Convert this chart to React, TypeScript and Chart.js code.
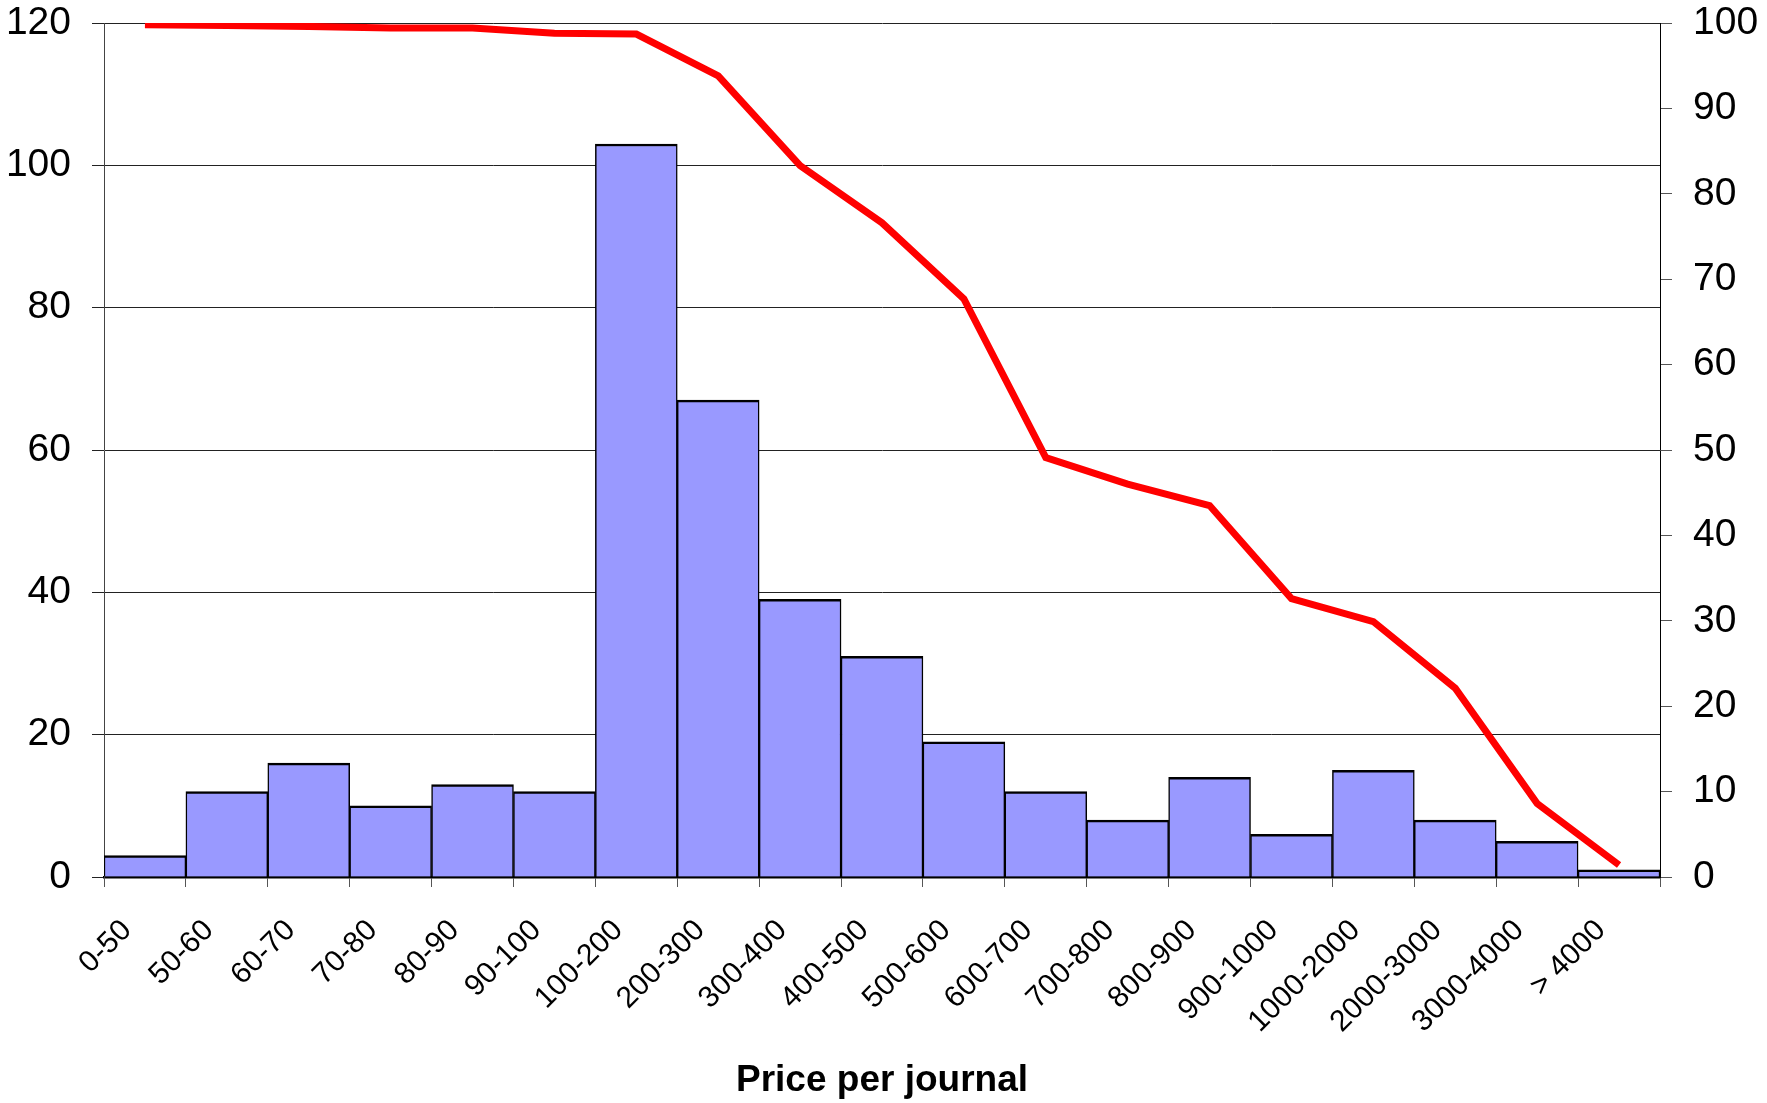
import React, { useEffect, useRef } from "react";
import { Chart, registerables } from "chart.js";

Chart.register(...registerables);

const categories = [
  "0-50", "50-60", "60-70", "70-80", "80-90", "90-100", "100-200", "200-300",
  "300-400", "400-500", "500-600", "600-700", "700-800", "800-900", "900-1000",
  "1000-2000", "2000-3000", "3000-4000", "> 4000",
];
const journalCounts = [3, 12, 16, 10, 13, 12, 103, 67, 39, 31, 19, 12, 8, 14, 6, 15, 8, 5, 1];
const cumulativePercent = [
  99.8, 99.7, 99.6, 99.4, 99.4, 98.8, 98.7, 93.8, 83.3, 76.6, 67.7, 49.1, 46.0, 43.5,
  32.6, 29.9, 22.1, 8.6, 1.4,
];
const leftAxisMax = 120;
const leftAxisStep = 20;
const rightAxisMax = 100;
const rightAxisStep = 10;
const xAxisTitle = "Price per journal";

const W = 1767;
const H = 1103;

export default function App() {
  const canvasRef = useRef<HTMLCanvasElement | null>(null);

  useEffect(() => {
    const canvas = canvasRef.current;
    if (!canvas) return;
    const font = "'Liberation Sans', Arial, sans-serif";
    const chart = new Chart(canvas, {
      type: "bar",
      data: {
        labels: categories,
        datasets: [
          {
            type: "line",
            data: cumulativePercent,
            yAxisID: "y1",
            borderColor: "#FF0000",
            borderWidth: 7,
            pointRadius: 0,
            tension: 0,
            borderJoinStyle: "miter",
            borderCapStyle: "butt",
            order: 0,
          } as any,
          {
            type: "bar",
            data: journalCounts,
            yAxisID: "y",
            backgroundColor: "#9999FF",
            borderColor: "#000000",
            borderWidth: { top: 2.5, left: 1.5, right: 1.5, bottom: 0 },
            borderSkipped: "start",
            barPercentage: 1,
            categoryPercentage: 1,
            order: 1,
          } as any,
        ],
      },
      options: {
        animation: false,
        responsive: false,
        maintainAspectRatio: false,
        layout: { padding: { top: 23, left: 0, right: 0, bottom: 0 } },
        plugins: {
          legend: { display: false },
          tooltip: { enabled: false },
        },
        scales: {
          x: {
            type: "category",
            offset: true,
            grid: {
              offset: true,
              drawOnChartArea: false,
              drawTicks: true,
              tickLength: 10,
              color: "#555555",
              lineWidth: 1,
            },
            border: { display: true, color: "#000000", width: 2.5 },
            ticks: {
              autoSkip: false,
              maxRotation: 45,
              minRotation: 45,
              color: "#000000",
              font: { family: font, size: 30 },
              padding: 26,
              labelOffset: -18,
            },
            title: {
              display: true,
              text: xAxisTitle,
              color: "#000000",
              font: { family: font, size: 37, weight: "bold" },
              padding: { top: 0, bottom: 0 },
            },
            afterFit: (s: any) => {
              s.height = 226;
              s.paddingLeft = 0;
              s.paddingRight = 0;
            },
          },
          y: {
            type: "linear",
            position: "left",
            min: 0,
            max: leftAxisMax,
            ticks: {
              stepSize: leftAxisStep,
              color: "#000000",
              font: { family: font, size: 39 },
              padding: 21,
            },
            grid: {
              color: "#222222",
              lineWidth: 1,
              tickLength: 12,
              drawTicks: true,
            },
            border: { display: true, color: "#444444", width: 1 },
            afterFit: (s: any) => {
              s.width = 104;
              s.paddingTop = 0;
              s.paddingBottom = 0;
            },
          },
          y1: {
            type: "linear",
            position: "right",
            min: 0,
            max: rightAxisMax,
            ticks: {
              stepSize: rightAxisStep,
              color: "#000000",
              font: { family: font, size: 39 },
              padding: 21,
            },
            grid: {
              drawOnChartArea: false,
              drawTicks: true,
              tickLength: 12,
              color: "#555555",
              lineWidth: 1,
            },
            border: { display: true, color: "#000000", width: 1 },
            afterFit: (s: any) => {
              s.width = 107;
              s.paddingTop = 0;
              s.paddingBottom = 0;
            },
          },
        },
      },
    });
    return () => chart.destroy();
  }, []);

  return (
    <div
      style={{
        position: "fixed",
        left: 0,
        top: 0,
        width: W,
        height: H,
        background: "#ffffff",
      }}
    >
      <canvas ref={canvasRef} width={W} height={H} style={{ width: W, height: H, display: "block" }} />
    </div>
  );
}
